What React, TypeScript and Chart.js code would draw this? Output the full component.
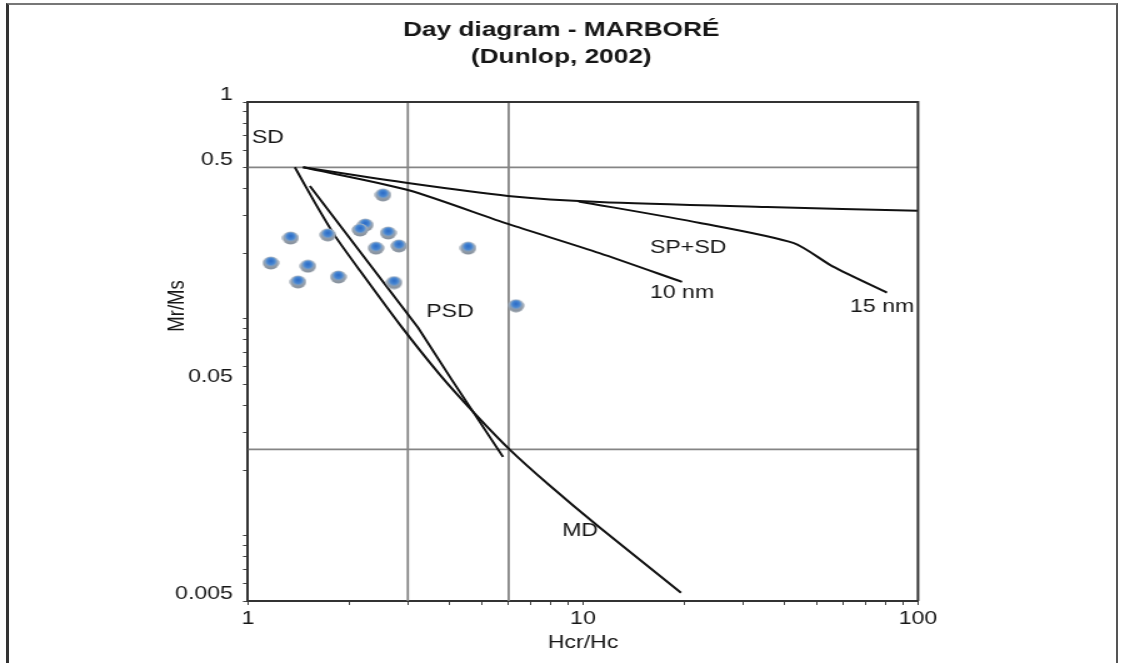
import React, { useEffect, useRef } from 'react';
import { Chart, registerables } from 'chart.js';

Chart.register(...registerables);

// ---------- data ----------
const titleLines = ['Day diagram - MARBORÉ', '(Dunlop, 2002)'];
const xAxisTitle = 'Hcr/Hc';
const yAxisTitle = 'Mr/Ms';

const xAxisMin = 1;
const xAxisMax = 100;
const yAxisMin = 0.005;
const yAxisMax = 1;

const xTickValues = [1, 2, 3, 4, 5, 6, 7, 8, 9, 10, 20, 30, 40, 50, 60, 70, 80, 90, 100];
const xLabelValues = [1, 10, 100];
const yTickValues = [
  0.005, 0.006, 0.007, 0.008, 0.009, 0.01, 0.02, 0.03, 0.04, 0.05, 0.06, 0.07, 0.08, 0.09,
  0.1, 0.2, 0.3, 0.4, 0.5, 0.6, 0.7, 0.8, 0.9, 1,
];
const yLabelValues = [0.005, 0.05, 0.5, 1];

// samples (Hcr/Hc, Mr/Ms)
const sampleHcrHc = [2.53, 1.34, 1.73, 2.24, 2.16, 2.62, 2.41, 2.82, 4.54, 1.17, 1.51, 1.86, 1.41, 2.73, 6.31];
const sampleMrMs = [0.373, 0.236, 0.244, 0.271, 0.257, 0.249, 0.212, 0.217, 0.212, 0.181, 0.175, 0.156, 0.148, 0.147, 0.115];

// domain boundaries
const boundaryHcrHc = [3, 6];
const boundaryMrMs = [0.5, 0.025];

// SD + MD mixing curve
const sdMdCurveX = [1.38, 1.585, 1.818, 2.16, 2.843, 3.742, 4.761, 6.055, 7.97, 11.24, 19.61];
const sdMdCurveY = [0.5, 0.3424, 0.2413, 0.1665, 0.0938, 0.0552, 0.0365, 0.0249, 0.017, 0.01088, 0.00546];
// SD + MD second trend
const sdMdLineX = [1.53, 3.22, 4.06, 5.77];
const sdMdLineY = [0.41, 0.0909, 0.0523, 0.0231];
// SD + SP upper curve
const sdSpUpperX = [1.46, 3.0, 5.97, 11.2, 35.4, 100];
const sdSpUpperY = [0.5, 0.423, 0.369, 0.346, 0.328, 0.315];
// SP (10 nm) + SD
const sp10nmX = [1.46, 3.0, 5.97, 11.2, 19.75];
const sp10nmY = [0.5, 0.393, 0.274, 0.201, 0.148];
// SP (15 nm) + SD
const sp15nmX = [9.7, 22.35, 42.4, 55.8, 80.8];
const sp15nmY = [0.348, 0.277, 0.224, 0.174, 0.132];

// region labels (placed in data coordinates)
const regionLabels = ['SD', 'PSD', 'SP+SD', '10 nm', '15 nm', 'MD'];
const regionLabelX = [1.147, 4.01, 20.6, 19.75, 78.1, 9.8];
const regionLabelY = [0.683, 0.108, 0.212, 0.132, 0.114, 0.0105];

// ---------- layout / style ----------
const STRETCH = 1.25;
const CW = 898;
const CH = 663;
const FONT = '"Liberation Sans", Arial, Helvetica, sans-serif';
const TEXT = '#161616';
const FS = 18.5;

function makeMarker(): HTMLCanvasElement {
  const c = document.createElement('canvas');
  c.width = 14;
  c.height = 14;
  const g = c.getContext('2d')!;
  const body = g.createLinearGradient(0, 0, 0, 14);
  body.addColorStop(0, '#aeb8c4');
  body.addColorStop(1, '#858f9b');
  g.fillStyle = body;
  g.beginPath();
  g.ellipse(7, 7, 6.6, 6.4, 0, 0, Math.PI * 2);
  g.fill();
  const cap = g.createRadialGradient(7, 5, 0.3, 7, 5.6, 5.2);
  cap.addColorStop(0, '#2c6cc8');
  cap.addColorStop(0.6, '#4a88d2');
  cap.addColorStop(1, 'rgba(120,165,215,0.2)');
  g.fillStyle = cap;
  g.beginPath();
  g.ellipse(7, 5.8, 5.4, 4.8, 0, 0, Math.PI * 2);
  g.fill();
  return c;
}

const zeroPad = (s: any) => {
  s.paddingLeft = 0;
  s.paddingRight = 0;
  s.paddingTop = 0;
  s.paddingBottom = 0;
};

const near = (list: number[], v: number) => list.some((t) => Math.abs(t - v) < 1e-9);

const annotPlugin = {
  id: 'dayAnnot',
  afterDatasetsDraw(chart: any) {
    const { ctx, chartArea, scales } = chart;
    const x = scales.x;
    const y = scales.y;
    ctx.save();
    ctx.strokeStyle = '#333';
    ctx.lineWidth = 2;
    ctx.beginPath();
    ctx.moveTo(chartArea.left, chartArea.top);
    ctx.lineTo(chartArea.right, chartArea.top);
    ctx.lineTo(chartArea.right, chartArea.bottom);
    ctx.stroke();

    ctx.fillStyle = TEXT;
    ctx.font = `${FS}px ${FONT}`;
    ctx.textAlign = 'center';
    ctx.textBaseline = 'middle';
    regionLabels.forEach((t, i) => {
      ctx.fillText(t, x.getPixelForValue(regionLabelX[i]), y.getPixelForValue(regionLabelY[i]));
    });

    ctx.translate(chartArea.left - 56, 306);
    ctx.rotate(-Math.PI / 2);
    ctx.fillText(yAxisTitle, 0, 0);
    ctx.restore();
  },
};

export default function App() {
  const ref = useRef<HTMLCanvasElement>(null);

  useEffect(() => {
    const canvas = ref.current;
    if (!canvas) return;
    const marker = makeMarker();
    const pts = (xs: number[], ys: number[]) => xs.map((v, i) => ({ x: v, y: ys[i] }));
    const black = '#111';
    const gray = '#858585';
    const lineDs = (label: string, xs: number[], ys: number[], color: string, width: number, tension: number) => ({
      label,
      data: pts(xs, ys),
      showLine: true,
      borderColor: color,
      backgroundColor: color,
      borderWidth: width,
      pointRadius: 0,
      pointHoverRadius: 0,
      tension,
      fill: false,
    });

    const datasets: any[] = [
      {
        label: 'Samples',
        data: pts(sampleHcrHc, sampleMrMs),
        showLine: false,
        pointStyle: marker,
        pointRadius: 7,
        pointHoverRadius: 7,
      },
      lineDs('SD+MD curve', sdMdCurveX, sdMdCurveY, black, 2, 0.2),
      lineDs('SD+MD line', sdMdLineX, sdMdLineY, black, 2, 0),
      lineDs('SD+SP', sdSpUpperX, sdSpUpperY, black, 2, 0.25),
      lineDs('10 nm', sp10nmX, sp10nmY, black, 2, 0.25),
      lineDs('15 nm', sp15nmX, sp15nmY, black, 2, 0.25),
      ...boundaryHcrHc.map((v) => lineDs(`Hcr/Hc=${v}`, [v, v], [yAxisMin, yAxisMax], gray, 1.8, 0)),
      ...boundaryMrMs.map((v) => lineDs(`Mr/Ms=${v}`, [xAxisMin, xAxisMax], [v, v], gray, 1.8, 0)),
    ];

    const chart = new Chart(canvas, {
      type: 'scatter',
      data: { datasets },
      plugins: [annotPlugin],
      options: {
        responsive: false,
        animation: false,
        devicePixelRatio: 1,
        layout: { padding: 0 },
        plugins: {
          legend: { display: false },
          tooltip: { enabled: false },
          title: {
            display: true,
            text: titleLines,
            color: TEXT,
            font: { family: FONT, size: 21, weight: 'bold', lineHeight: 1.3 },
            padding: { top: 16.35, bottom: 31.05 },
          },
        },
        scales: {
          x: {
            type: 'logarithmic',
            position: 'bottom',
            min: xAxisMin,
            max: xAxisMax,
            afterBuildTicks: (s: any) => {
              s.ticks = xTickValues.map((v) => ({ value: v }));
            },
            afterFit: (s: any) => {
              s.height = 62;
              zeroPad(s);
            },
            ticks: {
              autoSkip: false,
              maxRotation: 0,
              padding: 3,
              color: TEXT,
              font: { family: FONT, size: FS },
              callback: (v: any) => (near(xLabelValues, Number(v)) ? String(v) : ''),
            },
            grid: { drawOnChartArea: false, drawTicks: true, tickLength: 4, color: '#444' },
            border: { display: true, color: '#333', width: 2 },
            title: {
              display: true,
              text: xAxisTitle,
              color: TEXT,
              font: { family: FONT, size: FS },
              padding: { top: 0, bottom: 9 },
            },
          },
          y: {
            type: 'logarithmic',
            position: 'left',
            min: yAxisMin,
            max: yAxisMax,
            afterBuildTicks: (s: any) => {
              s.ticks = yTickValues.map((v) => ({ value: v }));
            },
            afterFit: (s: any) => {
              s.width = 198.4;
              zeroPad(s);
            },
            ticks: {
              autoSkip: false,
              padding: 8,
              labelOffset: -7,
              color: TEXT,
              font: { family: FONT, size: FS },
              callback: (v: any) => (near(yLabelValues, Number(v)) ? String(v) : ''),
            },
            grid: { drawOnChartArea: false, drawTicks: true, tickLength: 4, color: '#444' },
            border: { display: true, color: '#333', width: 2 },
          },
          y2: {
            type: 'linear',
            position: 'right',
            display: true,
            afterFit: (s: any) => {
              s.width = CW - 734.4;
              zeroPad(s);
            },
            ticks: { display: false },
            grid: { display: false },
            border: { display: false },
          },
        },
      } as any,
    });

    return () => chart.destroy();
  }, []);

  return (
    <div
      style={{
        position: 'absolute',
        left: 0,
        top: 0,
        width: 1122,
        height: 663,
        overflow: 'hidden',
        background: '#fff',
      }}
    >
      <div
        style={{
          position: 'absolute',
          left: 6,
          top: 3,
          width: 1112,
          height: 720,
          boxSizing: 'border-box',
          borderTop: '2px solid #777',
          borderLeft: '3px solid #333',
          borderRight: '2px solid #555',
        }}
      />
      <canvas
        ref={ref}
        width={CW}
        height={CH}
        style={{
          position: 'absolute',
          left: 0,
          top: 0,
          width: CW,
          height: CH,
          transform: `scaleX(${STRETCH})`,
          transformOrigin: '0 0',
        }}
      />
    </div>
  );
}
